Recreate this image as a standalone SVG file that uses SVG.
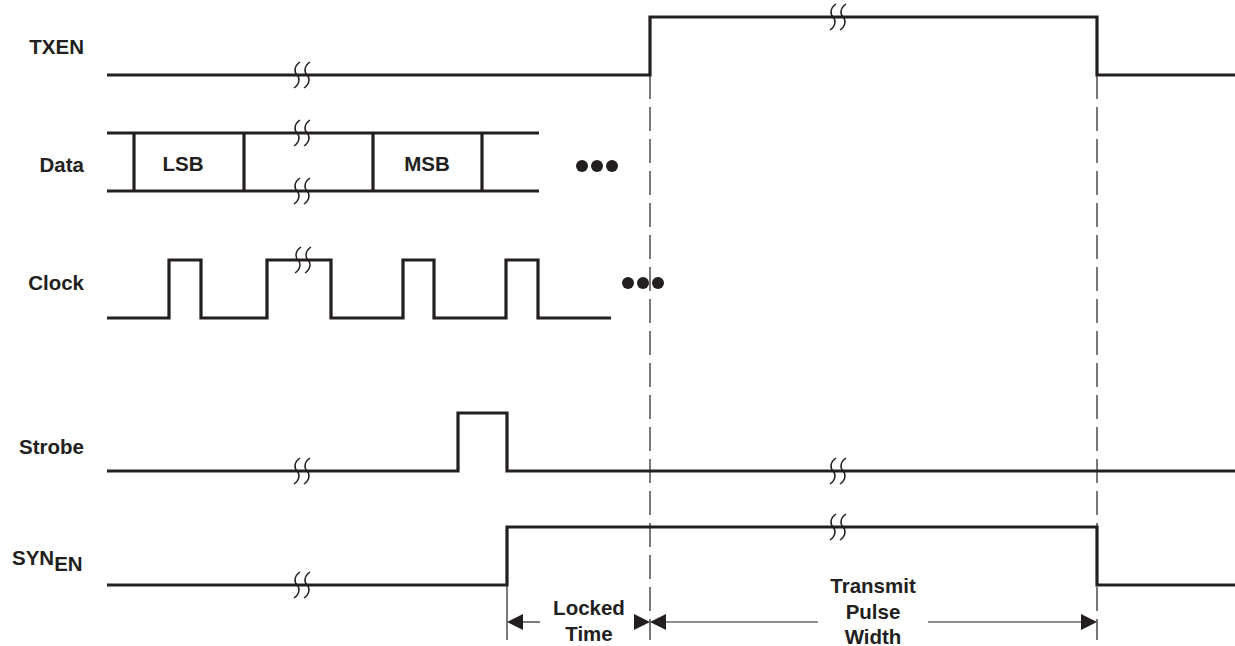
<svg xmlns="http://www.w3.org/2000/svg" width="1235" height="646" viewBox="0 0 1235 646">
<style>
.sig{fill:none;stroke:#231f20;stroke-width:3.2;stroke-linejoin:miter;stroke-linecap:butt}
.brk{fill:none;stroke:#231f20;stroke-width:1.5}
.dash{fill:none;stroke:#231f20;stroke-width:1.2;stroke-dasharray:24 8}
.thin{fill:none;stroke:#231f20;stroke-width:1.2}
.lbl{font-family:"Liberation Sans",Arial,sans-serif;font-weight:bold;font-size:20.5px;fill:#231f20}
.mid{text-anchor:middle}
.end{text-anchor:end}
.dot{fill:#231f20}
.ah{fill:#231f20}
</style>
<defs>
<path id="b" class="brk" d="M3,-13 C-3,-9 -3,-3 0,0 C3,3 3,9 -3,13"/>
<g id="bb"><use href="#b" x="-5"/><use href="#b" x="5"/></g>
</defs>

<g id="labels">
<text class="lbl end" x="84" y="54">TXEN</text>
<text class="lbl end" x="84" y="172">Data</text>
<text class="lbl end" x="84" y="290">Clock</text>
<text class="lbl end" x="84" y="454">Strobe</text>
<text class="lbl" x="12" y="565">SYN<tspan dy="6">EN</tspan></text>
</g>

<g id="connectors">
<line class="dash" x1="650" y1="75" x2="650" y2="640"/>
<line class="dash" x1="1097" y1="75" x2="1097" y2="640"/>
<line class="thin" x1="507" y1="585" x2="507" y2="640"/>
<line class="thin" x1="520" y1="622" x2="540" y2="622"/>
<polygon class="ah" points="507,622 523,614 523,630"/>
<polygon class="ah" points="650,622 634,614 634,630"/>
<polygon class="ah" points="650,622 666,614 666,630"/>
<line class="thin" x1="664" y1="622" x2="818" y2="622"/>
<line class="thin" x1="928" y1="622" x2="1084" y2="622"/>
<polygon class="ah" points="1097,622 1081,614 1081,630"/>
</g>

<g id="txen">
<path class="sig" d="M107,75 H650 V17 H1097 V75 H1235"/>
<use href="#bb" x="302" y="75"/>
<use href="#bb" x="838" y="17"/>
</g>

<g id="data">
<path class="sig" d="M107,133 H539 M107,191 H539 M134,133 V191 M244,133 V191 M373,133 V191 M482,133 V191"/>
<use href="#bb" x="302" y="133"/>
<use href="#bb" x="302" y="191"/>
<text class="lbl mid" x="183" y="171">LSB</text>
<text class="lbl mid" x="427" y="171">MSB</text>
<circle class="dot" cx="582" cy="166" r="6"/>
<circle class="dot" cx="597" cy="166" r="6"/>
<circle class="dot" cx="612" cy="166" r="6"/>
</g>

<g id="clock">
<path class="sig" d="M107,318 H169 V260 H201 V318 H267 V260 H331 V318 H403 V260 H434 V318 H506 V260 H538 V318 H611"/>
<use href="#bb" x="303" y="260"/>
<circle class="dot" cx="628" cy="283" r="6"/>
<circle class="dot" cx="643" cy="283" r="6"/>
<circle class="dot" cx="658" cy="283" r="6"/>
</g>

<g id="strobe">
<path class="sig" d="M107,471 H458 V413 H507 V471 H1235"/>
<use href="#bb" x="302" y="471"/>
<use href="#bb" x="838" y="471"/>
</g>

<g id="synen">
<path class="sig" d="M107,585 H507 V527 H1097 V585 H1235"/>
<use href="#bb" x="302" y="585"/>
<use href="#bb" x="838" y="527"/>
</g>

<g id="dim-labels">
<text class="lbl mid" x="589" y="615">Locked</text>
<text class="lbl mid" x="589" y="641">Time</text>
<text class="lbl mid" x="873" y="593">Transmit</text>
<text class="lbl mid" x="873" y="619">Pulse</text>
<text class="lbl mid" x="873" y="644">Width</text>
</g>
</svg>
